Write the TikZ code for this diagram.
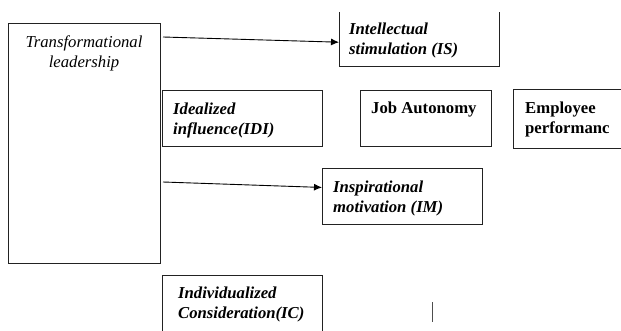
\documentclass[tikz,border=0pt]{standalone}
\usepackage{fontspec}
\setmainfont{Liberation Serif}
\usetikzlibrary{arrows.meta,positioning,calc}
\definecolor{cline}{HTML}{222222}
\tikzset{
  box/.style={draw=cline, line width=0.9pt, inner sep=0pt, anchor=north west},
  openbox/.style={inner sep=0pt, anchor=north west},
  txt/.style={inner sep=0pt, anchor=north west, align=left},
  txti/.style={txt, font=\fontsize{16.7}{20}\selectfont\itshape},
  txtbi/.style={txt, font=\fontsize{16.7}{20}\selectfont\bfseries\itshape},
  txtb/.style={txt, font=\fontsize{16.7}{20}\selectfont\bfseries},
  flow/.style={-{Latex[length=8pt,width=7pt]}, line width=0.9pt, draw=black},
}
\begin{document}
\begin{tikzpicture}[x=1pt,y=-1pt]
  \useasboundingbox (0,0) rectangle (621,331);
  \clip (0,0) rectangle (621,331);
  % boxes
  \node[box, minimum width=152pt, minimum height=240pt] (tl) at (8,23) {};
  \node[openbox, minimum width=160pt, minimum height=54pt] (is) at (339,12) {};
  \draw[draw=cline, line width=0.9pt] (is.north west) -- (is.south west) -- (is.south east) -- (is.north east);
  \node[box, minimum width=160pt, minimum height=56pt] (idi) at (162,90) {};
  \node[box, minimum width=131pt, minimum height=56pt] (ja) at (360,90) {};
  \node[box, minimum width=127pt, minimum height=59pt] (emp) at (513,89) {};
  \node[box, minimum width=160pt, minimum height=56pt] (im) at (322,168) {};
  \node[box, minimum width=160pt, minimum height=70pt] (ic) at (162,275) {};
  % texts
  \node[txti, anchor=north, align=center] (tltxt) at (84,35.5) {Transformational\\leadership};
  \node[txtbi] (istxt) at (349,23) {Intellectual\\stimulation (IS)};
  \node[txtbi] (iditxt) at (173,102.5) {Idealized\\influence(IDI)};
  \node[txtb] (jatxt) at (371,102) {Job Autonomy};
  \node[txtb] (emptxt) at (525,101.5) {Employee\\performanc};
  \node[txtbi] (imtxt) at (333,180.5) {Inspirational\\motivation (IM)};
  \node[txtbi] (ictxt) at (178,287) {Individualized\\Consideration(IC)};
  % arrows
  \coordinate (s1) at (163,37);
  \coordinate (s2) at (163,182);
  \draw[flow] (s1) -- ([yshift=-3pt]is.west);
  \draw[flow] (s2) -- ([yshift=9pt]im.west);
  \draw[cline!80, line width=0.7pt] (432,302) -- (432,322);
\end{tikzpicture}
\end{document}
